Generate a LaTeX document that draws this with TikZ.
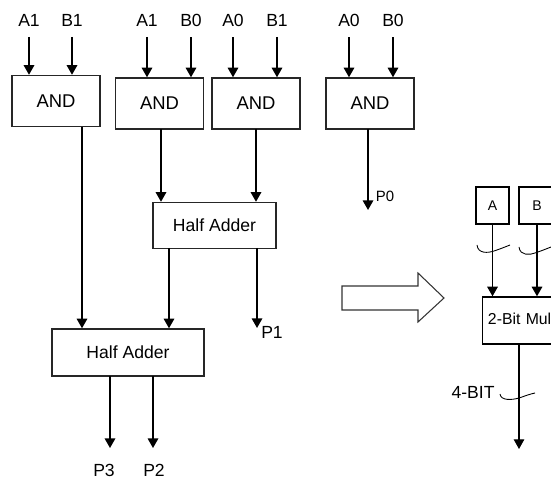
\documentclass[tikz,border=0pt]{standalone}
\usepackage{fontspec}
\setmainfont{Liberation Sans}
\usetikzlibrary{arrows.meta,positioning}

\begin{document}
\begin{tikzpicture}[x=0.02cm, y=-0.02cm,
  gate/.style={draw=black!85, line width=0.8pt, minimum width=1.76cm, minimum height=1.02cm, font=\fontsize{10.5}{12}\selectfont},
  adder/.style={draw=black!85, line width=0.8pt, minimum height=0.92cm, font=\fontsize{10}{12}\selectfont},
  sig/.style={font=\fontsize{10}{12}\selectfont, inner sep=1pt},
  wire/.style={line width=0.9pt, -{Triangle[width=6pt,length=5.5pt]}},
  bus/.style={line width=0.5pt}]
  \useasboundingbox (0,0) rectangle (551,479);
  \clip (0,0) rectangle (551,479);
  % partial products
  \node[gate] (and1) at (56,101) {AND};
  \node[gate] (and2) at (159.5,103.5) {AND};
  \node[gate] (and3) at (256,103.5) {AND};
  \node[gate] (and4) at (370,103.5) {AND};
  \node[sig] (inA1) at (29,20) {A1};
  \node[sig] (inB1) at (72,20) {B1};
  \node[sig] (inA1b) at (147,20) {A1};
  \node[sig] (inB0) at (191,20) {B0};
  \node[sig] (inA0) at (233,20) {A0};
  \node[sig] (inB1b) at (277,20) {B1};
  \node[sig] (inA0b) at (349,20) {A0};
  \node[sig] (inB0b) at (393,20) {B0};
  \draw[wire] ([yshift=-5pt]inA1.south) -- (inA1 |- and1.north);
  \draw[wire] ([yshift=-5pt]inB1.south) -- (inB1 |- and1.north);
  \draw[wire] ([yshift=-5pt]inA1b.south) -- (inA1b |- and2.north);
  \draw[wire] ([yshift=-5pt]inB0.south) -- (inB0 |- and2.north);
  \draw[wire] ([yshift=-5pt]inA0.south) -- (inA0 |- and3.north);
  \draw[wire] ([yshift=-5pt]inB1b.south) -- (inB1b |- and3.north);
  \draw[wire] ([yshift=-5pt]inA0b.south) -- (inA0b |- and4.north);
  \draw[wire] ([yshift=-5pt]inB0b.south) -- (inB0b |- and4.north);
  % adders
  \node[adder, minimum width=2.46cm] (ha1) at (214.5,225.5) {Half Adder};
  \node[adder, minimum width=3.04cm, minimum height=0.94cm] (ha2) at (128,352.5) {Half Adder};
  \coordinate (t1) at (82,127);
  \coordinate (t2) at (161,129);
  \coordinate (t3) at (256,129);
  \coordinate (t4) at (169,248);
  \coordinate (t5) at (257,248);
  \coordinate (t6) at (368,129);
  \coordinate (t7) at (110,376);
  \coordinate (t8) at (153,376);
  \draw[wire] (t1) -- (t1 |- ha2.north);
  \draw[wire] (t2) -- (t2 |- ha1.north);
  \draw[wire] (t3) -- (t3 |- ha1.north);
  \draw[wire] (t4) -- (t4 |- ha2.north);
  % outputs
  \coordinate (p0end) at (368,210);
  \coordinate (p1end) at (257,328);
  \coordinate (p3end) at (110,448);
  \coordinate (p2end) at (153,448);
  \node[sig, font=\fontsize{8.5}{10}\selectfont] (p0) at (385,196) {P0};
  \node[sig] (p1) at (272,332) {P1};
  \node[sig] (p3) at (104,470) {P3};
  \node[sig] (p2) at (154,470) {P2};
  \draw[wire] (t6) -- (p0end);
  \draw[wire] (t5) -- (p1end);
  \draw[wire] (t7) -- (p3end);
  \draw[wire] (t8) -- (p2end);
  % hollow arrow
  \draw[line width=0.6pt, draw=black!80] (342,286) -- (418,286) -- (418,273) -- (444,298) -- (418,322) -- (418,310) -- (342,310) -- cycle;
  % block view
  \node[draw, line width=0.8pt, minimum width=0.66cm, minimum height=0.74cm, font=\fontsize{8}{9}\selectfont] (boxA) at (492.5,205.5) {A};
  \node[draw, line width=0.8pt, minimum width=0.72cm, minimum height=0.74cm, font=\fontsize{8}{9}\selectfont] (boxB) at (537,205.5) {B};
  \node[draw, line width=0.8pt, anchor=west, text width=2.4cm, align=left, inner xsep=3pt, minimum height=0.94cm, font=\fontsize{9}{10}\selectfont] (mult) at (482,320.5) {2-Bit Multiplier};
  \draw[wire] (boxA.south) -- (boxA.south |- mult.north);
  \draw[wire] (boxB.south) -- (boxB.south |- mult.north);
  \coordinate (mo) at (519,344);
  \coordinate (mend) at (519,449);
  \draw[wire, line width=0.6pt] (mo) -- (mend);
  \node[sig] (nbit) at (473,392) {4-BIT};
  \draw[bus] (477,245) .. controls (478,254) and (488,253) .. (494,251) .. controls (500,249) and (505,247) .. (510,245);
  \draw[bus] (519,247) .. controls (520,256) and (530,255) .. (535,253) .. controls (541,251) and (546,249) .. (551,247);
  \draw[bus] (500,394) .. controls (501,401) and (512,400) .. (519,398) .. controls (525,396) and (530,394) .. (535,393);
\end{tikzpicture}
\end{document}
